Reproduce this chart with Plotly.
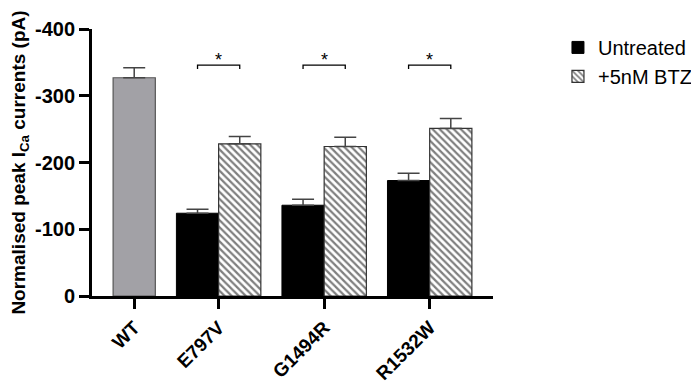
import plotly.graph_objects as go

# Data
categories = ["WT", "E797V", "G1494R", "R1532W"]
cat_pos = [1, 3, 5.5, 8]
wt_value = [-327]
wt_err = [15]
mut_categories = ["E797V", "G1494R", "R1532W"]
mut_pos = [3, 5.5, 8]
untreated = [-124, -136, -173]
untreated_err = [6, 9, 11]
btz = [-228, -224, -251]
btz_err = [11, 14, 15]
sig_labels = ["*", "*", "*"]

FONT = "Liberation Sans, Arial, sans-serif"

fig = go.Figure()

fig.add_trace(go.Bar(
    x=[cat_pos[0]], y=wt_value, width=1, showlegend=False,
    marker=dict(color="#a2a1a6", line=dict(color="#555555", width=1.2)),
    error_y=dict(type="data", symmetric=False, array=[0], arrayminus=wt_err,
                 color="#444444", thickness=1.5, width=11),
))
fig.add_trace(go.Bar(
    x=[p - 0.5 for p in mut_pos], y=untreated, width=1, name="Untreated",
    marker=dict(color="black", line=dict(color="black", width=1)),
    error_y=dict(type="data", symmetric=False, array=[0, 0, 0], arrayminus=untreated_err,
                 color="#444444", thickness=1.5, width=11),
))
fig.add_trace(go.Bar(
    x=[p + 0.5 for p in mut_pos], y=btz, width=1, name="+5nM BTZ",
    marker=dict(color="white", line=dict(color="#333333", width=1.2),
                pattern=dict(shape="\\", fgcolor="black", bgcolor="white", size=5, solidity=0.45)),
    error_y=dict(type="data", symmetric=False, array=[0, 0, 0], arrayminus=btz_err,
                 color="#444444", thickness=1.5, width=11),
))

# significance brackets
bracket_y = -346
tick_y = -340
for p, lab in zip(mut_pos, sig_labels):
    fig.add_trace(go.Scatter(
        x=[p - 0.5, p - 0.5, p + 0.5, p + 0.5],
        y=[tick_y, bracket_y, bracket_y, tick_y],
        mode="lines", line=dict(color="black", width=1.3),
        showlegend=False, hoverinfo="skip",
    ))
    fig.add_annotation(x=p, y=bracket_y, text=lab, showarrow=False,
                       yanchor="bottom", yshift=-7,
                       font=dict(family=FONT, size=18, color="black"))

fig.update_layout(
    width=691, height=375,
    margin=dict(l=84, r=206, t=21, b=87, autoexpand=False),
    paper_bgcolor="white", plot_bgcolor="white",
    barmode="overlay",
    font=dict(family=FONT, color="black"),
    legend=dict(x=1.162, y=1.004, xanchor="left", yanchor="top",
                font=dict(family=FONT, size=20, color="black"),
                itemwidth=30, tracegroupgap=17, bgcolor="rgba(0,0,0,0)"),
)
fig.update_xaxes(
    automargin=False,
    range=[0, 9.5], tickmode="array", tickvals=cat_pos, ticktext=categories,
    tickangle=-45, ticks="outside", ticklen=10, tickwidth=3, tickcolor="black",
    showline=True, linecolor="black", linewidth=3, showgrid=False, zeroline=False,
    tickfont=dict(family=FONT, size=19, color="black", weight="bold"),
)
fig.update_yaxes(
    automargin=False,
    range=[0, -400], tickvals=[0, -100, -200, -300, -400],
    ticktext=["0", "-100", "-200", "-300", "-400"],
    ticks="outside", ticklen=10, tickwidth=3, tickcolor="black",
    showline=True, linecolor="black", linewidth=3, showgrid=False, zeroline=False,
    tickfont=dict(family=FONT, size=20, color="black", weight="bold"),
    title=dict(text="Normalised peak I<sub>Ca</sub> currents (pA)",
               font=dict(family=FONT, size=19, color="black", weight="bold"), standoff=6),
)

fig.write_html("out.html")
